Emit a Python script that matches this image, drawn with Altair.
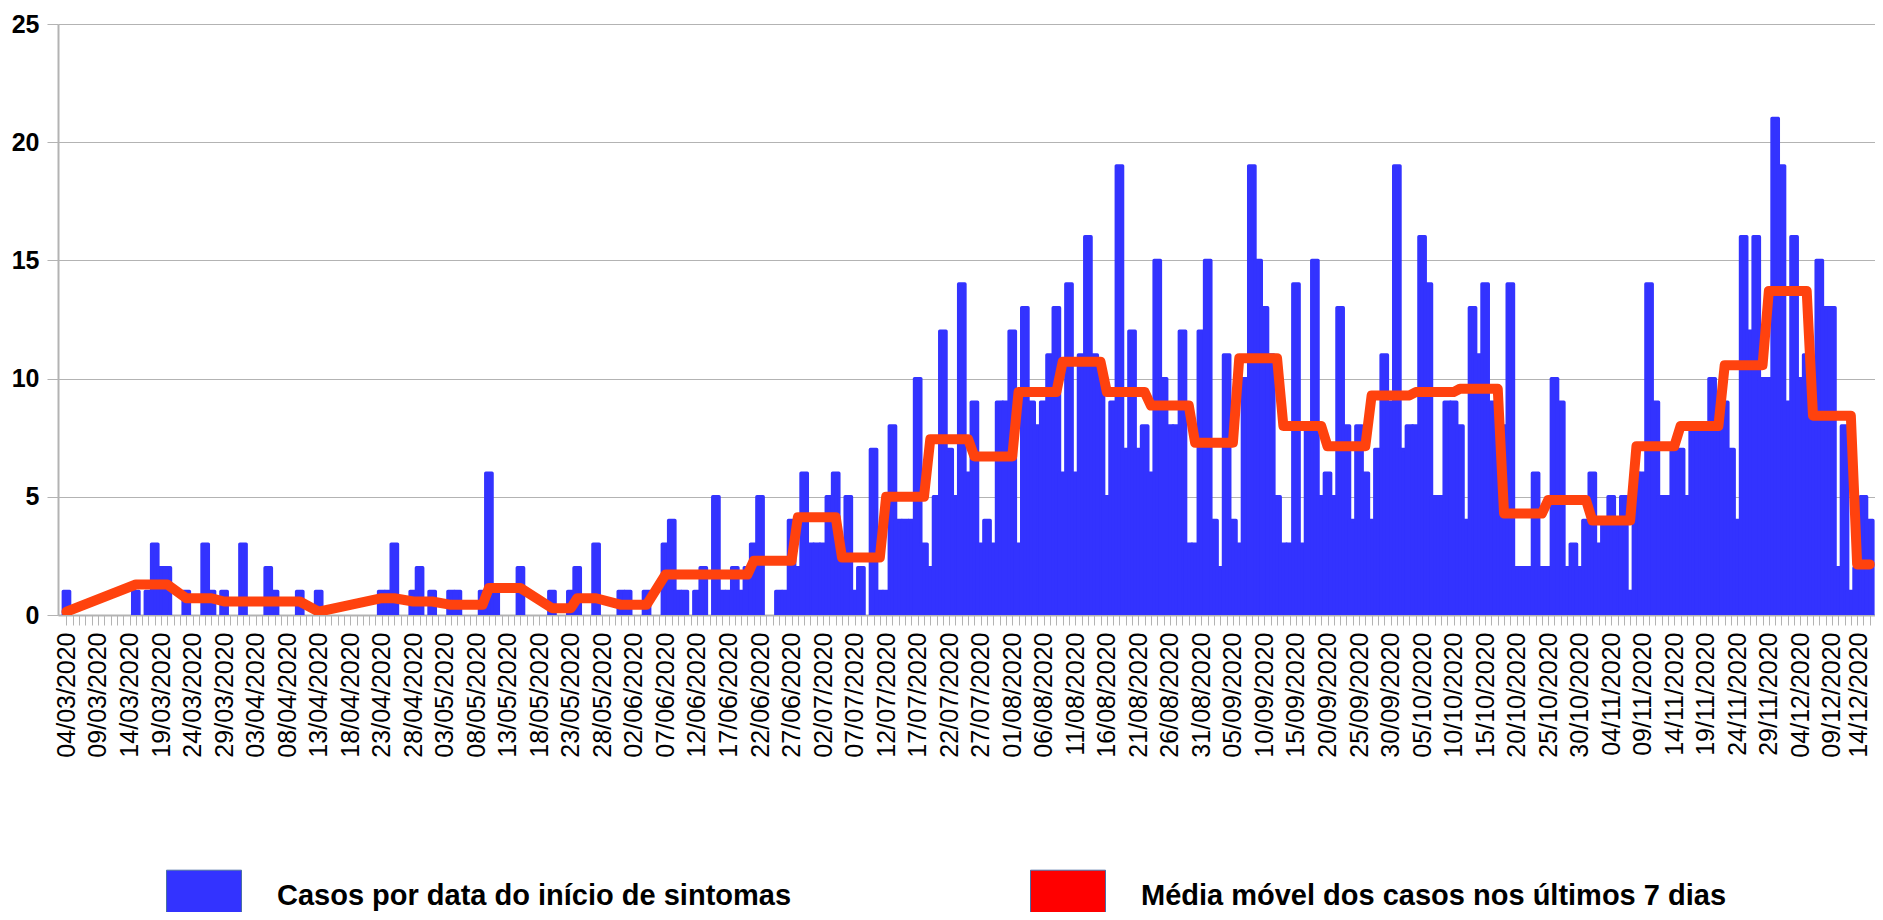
import altair as alt
import pandas as pd

# ---------------- dados ----------------
# casos por data do início de sintomas, um valor por dia a partir de 04/03/2020
inicio = (2020, 3, 4)
casos = [
    1, 0, 0, 0, 0, 0, 0, 0, 0, 0,
    0, 1, 0, 1, 3, 2, 2, 0, 0, 1,
    0, 0, 3, 1, 0, 1, 0, 0, 3, 0,
    0, 0, 2, 1, 0, 0, 0, 1, 0, 0,
    1, 0, 0, 0, 0, 0, 0, 0, 0, 0,
    1, 1, 3, 0, 0, 1, 2, 0, 1, 0,
    0, 1, 1, 0, 0, 0, 1, 6, 1, 0,
    0, 0, 2, 0, 0, 0, 0, 1, 0, 0,
    1, 2, 0, 0, 3, 0, 0, 0, 1, 1,
    0, 0, 1, 0, 0, 3, 4, 1, 1, 0,
    1, 2, 0, 5, 1, 1, 2, 1, 2, 3,
    5, 0, 0, 1, 1, 4, 2, 6, 3, 3,
    3, 5, 6, 3, 5, 1, 2, 0, 7, 1,
    1, 8, 4, 4, 4, 10, 3, 2, 5, 12,
    7, 5, 14, 6, 9, 3, 4, 3, 9, 9,
    12, 3, 13, 9, 8, 9, 11, 13, 6, 14,
    6, 11, 16, 11, 10, 5, 9, 19, 7, 12,
    7, 8, 6, 15, 10, 8, 8, 12, 3, 3,
    12, 15, 4, 2, 11, 4, 3, 10, 19, 15,
    13, 11, 5, 3, 3, 14, 3, 8, 15, 5,
    6, 5, 13, 8, 4, 8, 6, 4, 7, 11,
    9, 19, 7, 8, 8, 16, 14, 5, 5, 9,
    9, 8, 4, 13, 11, 14, 9, 9, 8, 14,
    2, 2, 2, 6, 2, 2, 10, 9, 2, 3,
    2, 4, 6, 3, 4, 5, 4, 5, 1, 6,
    6, 14, 9, 5, 5, 7, 7, 5, 8, 8,
    8, 10, 8, 9, 7, 4, 16, 12, 16, 10,
    10, 21, 19, 9, 16, 10, 11, 10, 15, 13,
    13, 2, 8, 1, 2, 5, 4,
]

# média móvel dos últimos 7 dias, um valor por semana (domingo a sábado),
# a primeira semana começa em 01/03/2020 (3 dias antes do início)
mm_semanal = [
    0.14, None, 1.29, 0.71, 0.57, 0.57, 0.14, 0.71, 0.57, 0.43,
    1.14, 0.29, 0.71, 0.43, 1.71, 1.71, 2.29, 4.14, 2.43, 5.00,
    7.43, 6.71, 9.43, 10.71, 9.43, 8.86, 7.29, 10.86, 8.00, 7.14,
    9.29, 9.43, 9.57, 4.29, 4.86, 4.00, 7.14, 8.00, 10.57, 13.71,
    8.43, 2.14,
]
atraso_semana = 3

serie_barras = "Casos por data do início de sintomas"
serie_linha = "Média móvel dos casos nos últimos 7 dias"
series = [serie_barras, serie_linha]
cores_legenda = ["#3333ff", "#ff0000"]
valores_y = [0, 5, 10, 15, 20, 25]

# ---------------- tabelas ----------------
df = pd.DataFrame({"dia": range(len(casos)), "casos": casos})
df = df[df["casos"] > 0].copy()
df["mm"] = [mm_semanal[(d + atraso_semana) // 7] for d in df["dia"]]
df_leg = pd.DataFrame({"serie": series, "dia": [0, 0], "casos": [0, 0]})

FONT = "Liberation Sans"
GRAY = "#b3b3b3"
ultimo = len(casos) - 2

label_expr = (
    "datum.value % 5 == 0 ? timeFormat(datetime("
    + f"{inicio[0]}, {inicio[1] - 1}, {inicio[2]}"
    + " + datum.value), '%d/%m/%Y') : ''"
)

x_enc = alt.X(
    "dia:Q",
    scale=alt.Scale(domain=[-0.55, 286.04], nice=False, zero=False),
    axis=alt.Axis(
        title=None,
        values=list(range(len(casos))),
        labelExpr=label_expr,
        labelAngle=270,
        labelAlign="right",
        labelBaseline="middle",
        labelOffset={"condition": {"test": f"datum.value >= {ultimo}", "value": -5}, "value": 0},
        labelFont=FONT,
        labelFontSize=25,
        labelColor="black",
        labelPadding=7,
        labelOverlap=False,
        labelFlush=False,
        labelBound=False,
        ticks=True,
        tickSize=10,
        tickColor=GRAY,
        tickWidth=1,
        domainColor=GRAY,
        domainWidth=2,
        grid=False,
    ),
)


def y_enc(campo):
    return alt.Y(
        f"{campo}:Q",
        scale=alt.Scale(domain=[0, 25], nice=False),
        axis=alt.Axis(
            title=None,
            values=valores_y,
            grid=True,
            gridColor=GRAY,
            gridWidth=1,
            tickColor=GRAY,
            tickSize=11,
            tickWidth=1,
            domainColor=GRAY,
            domainWidth=2,
            labelFont=FONT,
            labelFontSize=25,
            labelFontWeight="bold",
            labelColor="black",
            labelPadding=8,
        ),
    )


barras = alt.Chart(df).mark_bar(
    color="#3333ff",
    stroke="#3333ff",
    strokeWidth=3.4,
    strokeJoin="round",
    size=6.3,
    clip=True,
).encode(x=x_enc, y=y_enc("casos"))

linha = alt.Chart(df).mark_line(
    color="#ff420e",
    strokeWidth=10,
    strokeCap="round",
    strokeJoin="round",
    clip=True,
).encode(x=x_enc, y=y_enc("mm"))

legenda = alt.Chart(df_leg).mark_square(size=0, opacity=1, filled=True).encode(
    x=x_enc,
    y=y_enc("casos"),
    color=alt.Color(
        "serie:N",
        scale=alt.Scale(domain=series, range=cores_legenda),
        legend=alt.Legend(
            title=None,
            orient="none",
            legendX=108,
            legendY=834,
            direction="horizontal",
            symbolType="M-1,-0.69L1,-0.69L1,0.69L-1,0.69Z",
            symbolSize=5625,
            symbolOpacity=1,
            symbolStrokeColor="#4a6fa5",
            symbolStrokeWidth=1,
            labelFont=FONT,
            labelFontSize=29,
            labelFontWeight="bold",
            labelColor="black",
            labelOffset=35,
            labelLimit=2000,
            columnPadding=236,
            padding=0,
        ),
    ),
)

chart = (
    alt.layer(barras, linha, legenda)
    .properties(
        width=1817,
        height=591,
        padding={"left": 50, "top": 16, "right": 0, "bottom": 297},
        autosize=alt.AutoSizeParams(type="none"),
        background="white",
    )
    .configure_view(stroke=None)
)

chart.save("out.html", embed_options={"renderer": "svg", "actions": False})
